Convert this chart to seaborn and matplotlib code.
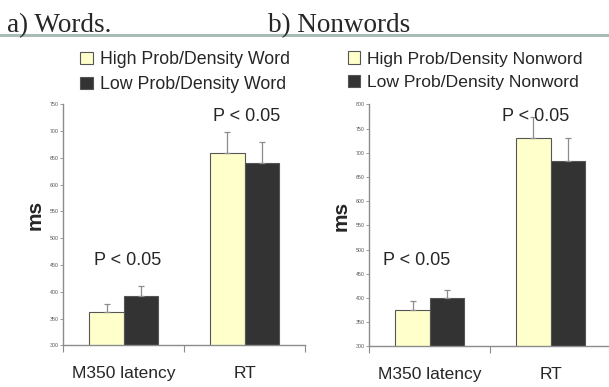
import matplotlib
matplotlib.use("Agg")
import matplotlib.pyplot as plt
import seaborn as sns
import pandas as pd
import numpy as np

categories = ["M350 latency", "RT"]

words_high = [362, 659]
words_high_err = [15, 39]
words_low = [392, 641]
words_low_err = [18, 39]
words_labels = ["High Prob/Density Word", "Low Prob/Density Word"]

nonwords_high = [376, 730]
nonwords_high_err = [18, 45]
nonwords_low = [399, 684]
nonwords_low_err = [17, 46]
nonwords_labels = ["High Prob/Density Nonword", "Low Prob/Density Nonword"]

words_ticks = [300, 350, 400, 450, 500, 550, 600, 650, 700, 750]
nonwords_ticks = [300, 350, 400, 450, 500, 550, 600, 650, 700, 750, 800]

annot = "P < 0.05"

sns.set_style("white")
plt.rcParams['font.family'] = ['Liberation Sans', 'DejaVu Sans']

HIGH = "#FFFFCC"
LOW = "#333333"
EDGE = "#555555"
GRAY = "#8c8c8c"

fig = plt.figure(figsize=(6.09, 3.87), dpi=100)


def panel(rect, high, high_err, low, low_err, labels, ticks, ann_pos, legend_anchor, legend_fs):
    ax = fig.add_axes(rect)
    df = pd.DataFrame({
        "cond": categories * 2,
        "ms": list(high) + list(low),
        "type": [labels[0]] * 2 + [labels[1]] * 2,
    })
    sns.barplot(data=df, x="cond", y="ms", hue="type", palette=[HIGH, LOW],
                width=0.57, edgecolor=EDGE, linewidth=0.8, errorbar=None,
                legend=False, ax=ax, saturation=1)
    bar_conts = list(ax.containers)
    errs = [high_err, low_err]
    vals = [high, low]
    for i, cont in enumerate(bar_conts):
        xs = [p.get_x() + p.get_width() / 2 for p in cont.patches]
        ax.errorbar(xs, vals[i], yerr=[np.zeros(len(xs)), errs[i]], fmt="none",
                    ecolor=GRAY, elinewidth=0.9, capsize=2.5, capthick=0.9, zorder=1)
    ax.set_ylim(ticks[0], ticks[-1])
    ax.set_xlim(-0.5, 1.5)
    ax.set_yticks(ticks)
    ax.set_yticklabels([str(t) for t in ticks], fontsize=3.8, color="#555555")
    ax.tick_params(axis="y", length=2, width=0.6, color=GRAY, pad=1.5, left=True)
    ax.set_xticks([-0.5, 0.5, 1.5])
    ax.set_xticklabels(["", "", ""])
    ax.tick_params(axis="x", which="major", length=5, width=0.8, color=GRAY, bottom=True, direction="out")
    ax.set_xticks([0, 1], minor=True)
    ax.set_xticklabels(categories, minor=True, fontsize=12.5)
    ax.tick_params(axis="x", which="minor", length=0, pad=15)
    for s in ["top", "right"]:
        ax.spines[s].set_visible(False)
    for s in ["left", "bottom"]:
        ax.spines[s].set_color(GRAY)
        ax.spines[s].set_linewidth(1.0)
    ax.set_xlabel("")
    ax.set_ylabel("ms", fontsize=15, fontweight="bold", labelpad=4)
    ax.yaxis.set_label_coords(-0.078, 0.54)
    for (x, y) in ann_pos:
        ax.text(x, y, annot, fontsize=13, ha="center", va="center")
    ax.legend(bar_conts, labels, loc="upper left", bbox_to_anchor=legend_anchor,
              bbox_transform=fig.transFigure, frameon=False, fontsize=legend_fs,
              handlelength=0.7, handleheight=0.7, handletextpad=0.4,
              labelspacing=0.45, borderaxespad=0, borderpad=0)
    return ax


panel([0.104, 0.1077, 0.397, 0.623], words_high, words_high_err, words_low, words_low_err,
      words_labels, words_ticks, [(0.03, 458), (1.02, 727)], (0.132, 0.867), 12.8)
panel([0.6064, 0.1052, 0.397, 0.625], nonwords_high, nonwords_high_err, nonwords_low, nonwords_low_err,
      nonwords_labels, nonwords_ticks, [(-0.11, 477), (0.88, 775)], (0.571, 0.867), 12.6)

fig.text(0.011, 1 - 32 / 387, "a) Words.", fontsize=19.5, family=["Liberation Serif"], va="baseline", ha="left")
fig.text(0.44, 1 - 32 / 387, "b) Nonwords", fontsize=19.5, family=["Liberation Serif"], va="baseline", ha="left")
fig.add_artist(plt.Line2D([0, 1], [1 - 35 / 387, 1 - 35 / 387], transform=fig.transFigure,
                          color="#a9bdb5", linewidth=2.2))

fig.savefig("out.png", dpi=100)
